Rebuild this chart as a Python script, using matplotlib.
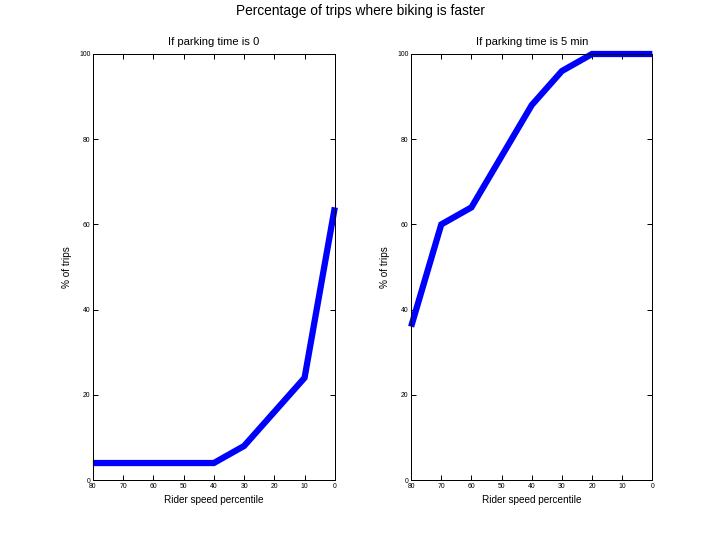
import numpy as np
import matplotlib
matplotlib.use("Agg")
import matplotlib.pyplot as plt

plt.rcParams['font.family'] = ['Liberation Sans', 'DejaVu Sans']

percentiles = [80, 70, 60, 50, 40, 30, 20, 10, 0]
pct_park0 = [4, 4, 4, 4, 4, 8, 16, 24, 64]
pct_park5 = [36, 60, 64, 76, 88, 96, 100, 100, 100]
titles = ["If parking time is 0", "If parking time is 5 min"]
yticks = [0, 20, 40, 60, 80, 100]

fig = plt.figure(figsize=(8, 6), dpi=90)
fig.suptitle("Percentage of trips where biking is faster", fontsize=11, y=0.993)

positions = [[0.129, 0.111, 0.336, 0.789], [0.571, 0.111, 0.335, 0.789]]
for pos, series, title in zip(positions, [pct_park0, pct_park5], titles):
    ax = fig.add_axes(pos)
    ax.plot(percentiles, series, color="#0000ff", linewidth=5, clip_on=False,
            solid_joinstyle='miter', solid_capstyle='butt')
    ax.set_xlim(80, 0)
    ax.set_ylim(0, 100)
    ax.set_xticks(percentiles)
    ax.set_yticks(yticks)
    ax.tick_params(direction='in', length=4, width=0.8, labelsize=5.5,
                   top=True, right=True, pad=2)
    ax.set_title(title, fontsize=9, pad=7)
    ax.set_xlabel("Rider speed percentile", fontsize=8, labelpad=4)
    ax.set_ylabel("% of trips", fontsize=8, labelpad=6)

fig.savefig("out.png", dpi=90)
